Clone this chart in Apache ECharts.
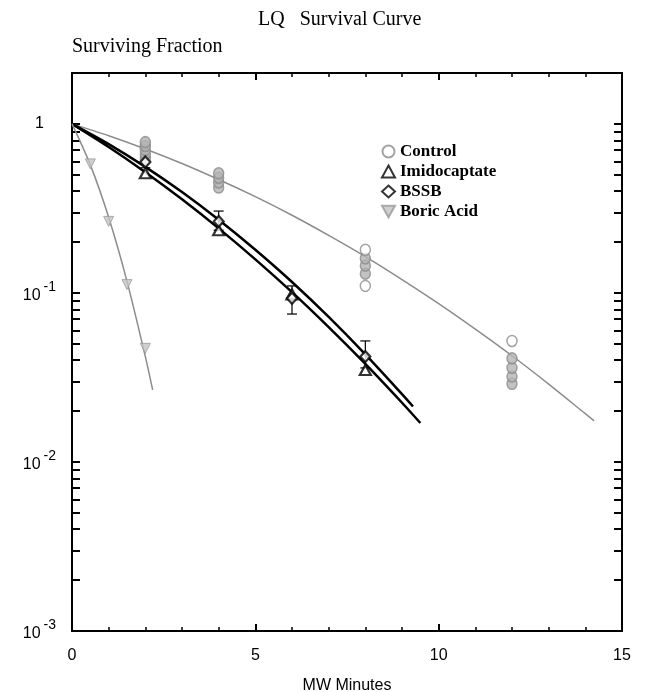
<!DOCTYPE html>
<html>
<head>
<meta charset="utf-8">
<script src="https://cdn.jsdelivr.net/npm/echarts@6/dist/echarts.min.js"></script>
<style>
    html, body { margin: 0; padding: 0; background: #fff; }
    #main { width: 648px; height: 692px; }
</style>
</head>
<body>
<div id="main"></div>
<script>
    // measured points
    var controlX = [2, 2, 2, 2, 2, 4, 4, 4, 4, 8, 8, 8, 8, 8, 12, 12, 12, 12, 12];
    var controlY = [0.62, 0.66, 0.70, 0.74, 0.78, 0.42, 0.45, 0.48, 0.51, 0.11, 0.13, 0.145, 0.16, 0.18, 0.029, 0.032, 0.036, 0.041, 0.052];
    var controlOpen = [false, false, false, false, false, false, false, false, false, true, false, false, false, true, false, false, false, false, true];
    var imidoX = [2, 4, 6, 8];
    var imidoY = [0.51, 0.235, 0.098, 0.035];
    var bssbX = [2, 4, 6, 8];
    var bssbY = [0.595, 0.265, 0.093, 0.042];
    var bssbLow = [0.55, 0.235, 0.075, 0.036];
    var bssbHigh = [0.64, 0.305, 0.11, 0.052];
    var boricX = [0.5, 1, 1.5, 2];
    var boricY = [0.58, 0.265, 0.112, 0.047];

    // fitted curves
    var controlFitX = [0, 1, 2, 3, 4, 5, 6, 7, 8, 9, 10, 11, 12, 13, 14, 14.24];
    var controlFitY = [1, 0.851, 0.711, 0.583, 0.469, 0.371, 0.288, 0.219, 0.164, 0.12, 0.0865, 0.0611, 0.0425, 0.0289, 0.0193, 0.0175];
    var imidoFitX = [0, 1, 2, 3, 4, 5, 6, 7, 8, 9, 9.5];
    var imidoFitY = [1, 0.73, 0.518, 0.358, 0.241, 0.158, 0.101, 0.0627, 0.038, 0.0224, 0.017];
    var bssbFitX = [0, 1, 2, 3, 4, 5, 6, 7, 8, 9, 9.3];
    var bssbFitY = [1, 0.759, 0.557, 0.395, 0.271, 0.18, 0.116, 0.0721, 0.0433, 0.0252, 0.0213];
    var boricFitX = [0, 0.5, 1, 1.5, 2, 2.2];
    var boricFitY = [1, 0.572, 0.28, 0.117, 0.042, 0.0267];

    var yMajor = [0.001, 0.01, 0.1, 1];
    var yTicks = [];
    yMajor.forEach(function (d) {
        for (var k = 1; k <= 9; k++) {
            var v = +(d * k).toPrecision(3);
            if (v <= 2) yTicks.push(v);
        }
    });

    function pairs(xs, ys) {
        return xs.map(function (x, i) { return [x, ys[i]]; });
    }

    var grey = '#8c8c8c';
    var serif = 'Liberation Serif';
    var sans = 'Liberation Sans';

    var chart = echarts.init(document.getElementById('main'));

    var option = {
        animation: false,
        title: {
            text: 'LQ   Survival Curve',
            left: 253,
            top: 5,
            textStyle: { fontFamily: serif, fontSize: 20, fontWeight: 'normal', color: '#000' }
        },
        legend: {
            data: ['Control', 'Imidocaptate', 'BSSB', 'Boric Acid'],
            orient: 'vertical',
            left: 376,
            top: 138,
            itemWidth: 13,
            itemHeight: 12,
            itemGap: 3,
            textStyle: { fontFamily: serif, fontSize: 17, fontWeight: 'bold', color: '#000', lineHeight: 17 }
        },
        grid: { left: 72, right: 26, top: 73, bottom: 61, outerBoundsMode: 'none' },
        xAxis: [{
            type: 'value',
            min: 0, max: 15, interval: 5,
            name: 'MW Minutes',
            nameLocation: 'middle',
            nameGap: 47,
            nameTextStyle: { fontFamily: sans, fontSize: 16, color: '#000' },
            axisLine: { onZero: false, lineStyle: { color: '#000', width: 2 } },
            axisTick: { inside: true, length: 7, lineStyle: { color: '#000', width: 2 } },
            minorTick: { show: true, splitNumber: 5, length: 4, lineStyle: { color: '#000', width: 1.5 } },
            axisLabel: { fontFamily: sans, fontSize: 16, color: '#000', margin: 17 },
            splitLine: { show: false }
        }, {
            type: 'value',
            position: 'top',
            min: 0, max: 15, interval: 5,
            axisLine: { onZero: false, lineStyle: { color: '#000', width: 2 } },
            axisTick: { inside: true, length: 7, lineStyle: { color: '#000', width: 2 } },
            minorTick: { show: true, splitNumber: 5, length: 4, lineStyle: { color: '#000', width: 1.5 } },
            axisLabel: { show: false },
            splitLine: { show: false }
        }],
        yAxis: [{
            type: 'log',
            logBase: 10,
            min: 0.001, max: 2,
            name: 'Surviving Fraction',
            nameLocation: 'end',
            nameGap: 16,
            nameTextStyle: { fontFamily: serif, fontSize: 20, color: '#000', align: 'left' },
            axisLine: { onZero: false, lineStyle: { color: '#000', width: 2 } },
            axisTick: { inside: true, length: 8, customValues: yTicks, lineStyle: { color: '#000', width: 2 } },
            axisLabel: {
                customValues: yMajor,
                margin: 16,
                formatter: function (v) {
                    if (Math.abs(v - 1) < 1e-9) return '{one|1}';
                    var e = Math.round(Math.log(v) / Math.LN10);
                    return '{b|10}{s|' + e + '}';
                },
                rich: {
                    one: { fontFamily: sans, fontSize: 16, color: '#000', padding: [0, 12, 0, 0] },
                    b: { fontFamily: sans, fontSize: 16, color: '#000', padding: [6, 0, 0, 0] },
                    s: { fontFamily: sans, fontSize: 14, color: '#000', verticalAlign: 'bottom', padding: [0, 0, 12, 3] }
                }
            },
            splitLine: { show: false }
        }, {
            type: 'log',
            logBase: 10,
            min: 0.001, max: 2,
            position: 'right',
            axisLine: { onZero: false, lineStyle: { color: '#000', width: 2 } },
            axisTick: { inside: true, length: 8, customValues: yTicks, lineStyle: { color: '#000', width: 2 } },
            axisLabel: { show: false },
            splitLine: { show: false }
        }],
        series: [
            {
                name: 'Control fit', type: 'line', smooth: 0.3, symbol: 'none',
                data: pairs(controlFitX, controlFitY),
                lineStyle: { color: grey, width: 1.5 }, z: 2
            },
            {
                name: 'Imidocaptate fit', type: 'line', smooth: 0.3, symbol: 'none',
                data: pairs(imidoFitX, imidoFitY),
                lineStyle: { color: '#000', width: 2.5 }, z: 2
            },
            {
                name: 'BSSB fit', type: 'line', smooth: 0.3, symbol: 'none',
                data: pairs(bssbFitX, bssbFitY),
                lineStyle: { color: '#000', width: 2.5 }, z: 2
            },
            {
                name: 'Boric fit', type: 'line', smooth: 0.3, symbol: 'none',
                data: pairs(boricFitX, boricFitY),
                lineStyle: { color: grey, width: 1.5 }, z: 2
            },
            {
                name: 'Control', type: 'scatter', symbol: 'circle', symbolSize: [10, 11],
                itemStyle: { color: '#fff', borderColor: grey, borderWidth: 1.5 },
                data: controlX.map(function (x, i) {
                    return {
                        value: [x, controlY[i]],
                        itemStyle: controlOpen[i] ? {} : { color: '#b4b4b4' }
                    };
                }),
                z: 3
            },
            {
                name: 'BSSB err', type: 'custom',
                data: bssbX.map(function (x, i) { return [x, bssbLow[i], bssbHigh[i]]; }),
                renderItem: function (params, api) {
                    var lo = api.coord([api.value(0), api.value(1)]);
                    var hi = api.coord([api.value(0), api.value(2)]);
                    var w = 5;
                    var st = { stroke: '#000', lineWidth: 1.2 };
                    return {
                        type: 'group',
                        children: [
                            { type: 'line', shape: { x1: lo[0], y1: lo[1], x2: hi[0], y2: hi[1] }, style: st },
                            { type: 'line', shape: { x1: lo[0] - w, y1: lo[1], x2: lo[0] + w, y2: lo[1] }, style: st },
                            { type: 'line', shape: { x1: hi[0] - w, y1: hi[1], x2: hi[0] + w, y2: hi[1] }, style: st }
                        ]
                    };
                },
                z: 3
            },
            {
                name: 'Imidocaptate', type: 'scatter', symbol: 'triangle', symbolSize: [11, 10],
                itemStyle: { color: '#fff', borderColor: '#000', borderWidth: 2.2 },
                data: pairs(imidoX, imidoY), z: 4
            },
            {
                name: 'BSSB', type: 'scatter', symbol: 'diamond', symbolSize: [10, 11],
                itemStyle: { color: '#fff', borderColor: '#000', borderWidth: 2.2 },
                data: pairs(bssbX, bssbY), z: 4
            },
            {
                name: 'Boric Acid', type: 'scatter', symbol: 'path://M0,0 L10,0 L5,9 Z', symbolSize: [10, 10],
                itemStyle: { color: '#c4c4c4', borderColor: '#9a9a9a', borderWidth: 1 },
                data: pairs(boricX, boricY), z: 4
            }
        ]
    };
    chart.setOption(option);
</script>
</body>
</html>
